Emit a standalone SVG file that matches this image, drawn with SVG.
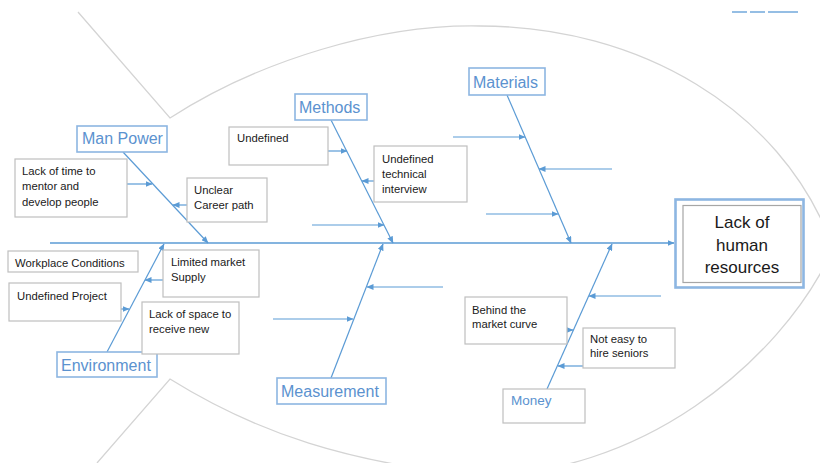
<svg xmlns="http://www.w3.org/2000/svg" width="820" height="463" viewBox="0 0 820 463">
<style>
.fish{fill:none;stroke:#d4d4d4;stroke-width:1.3}
.bone{stroke:#5b9bd5;stroke-width:1.2;fill:none}
.sub{stroke:#5b9bd5;stroke-width:1.2;fill:none;marker-end:url(#ah)}
.cat{fill:#fff;stroke:#8db6e2;stroke-width:1.6}
.ctxt{font-family:"Liberation Sans",Arial,sans-serif;font-size:16px;fill:#5b92cf}
.box{fill:#fff;stroke:#bfbfbf;stroke-width:1.2}
.t{font-family:"Liberation Sans",Arial,sans-serif;font-size:11.3px;fill:#1a1a1a}
.head{font-family:"Liberation Sans",Arial,sans-serif;font-size:17px;fill:#1a1a1a;text-anchor:middle}
</style>
<defs>
<marker id="ah" markerUnits="userSpaceOnUse" markerWidth="7" markerHeight="6" refX="6.5" refY="3" orient="auto">
<path d="M0,0 L7,3 L0,6 Z" fill="#5b9bd5"/>
</marker>
</defs>
<rect width="820" height="463" fill="#fff"/>
<g id="fish-outline">
<path class="fish" d="M78,12 L170,118 C260,60 380,24 480,26 C640,26 780,110 830,240"/>
<path class="fish" d="M97,463 L170,379 C260,435 350,462 470,475 C640,480 780,360 830,255"/>
</g>
<g id="decor">
<line x1="732" y1="12" x2="747" y2="12" stroke="#5b9bd5" stroke-width="1.3"/>
<line x1="750" y1="12" x2="765" y2="12" stroke="#5b9bd5" stroke-width="1.3"/>
<line x1="768" y1="12" x2="798" y2="12" stroke="#5b9bd5" stroke-width="1.3"/>
</g>
<g id="connectors">
<line class="sub" x1="50" y1="243" x2="674" y2="243" style="stroke-width:1.4"/>
<line class="sub" x1="123" y1="152" x2="208" y2="243"/>
<line class="sub" x1="331" y1="120" x2="393" y2="243"/>
<line class="sub" x1="507" y1="95" x2="571" y2="243"/>
<line class="sub" x1="107" y1="352" x2="164" y2="244"/>
<line class="sub" x1="331" y1="378" x2="383" y2="244"/>
<line class="sub" x1="547" y1="389" x2="612" y2="244"/>
<line class="sub" x1="127" y1="184" x2="152" y2="184"/>
<line class="sub" x1="187" y1="205" x2="173" y2="205"/>
<line class="sub" x1="328" y1="151" x2="347" y2="151"/>
<line class="sub" x1="374" y1="181" x2="362" y2="181"/>
<line class="sub" x1="312" y1="225" x2="384" y2="225"/>
<line class="sub" x1="453" y1="137" x2="525" y2="137"/>
<line class="sub" x1="612" y1="169" x2="539" y2="169"/>
<line class="sub" x1="486" y1="214" x2="558" y2="214"/>
<line class="sub" x1="163" y1="280" x2="145" y2="280"/>
<line class="sub" x1="121" y1="309" x2="129" y2="309"/>
<line class="sub" x1="443" y1="287" x2="367" y2="287"/>
<line class="sub" x1="273" y1="319" x2="353" y2="319"/>
<line class="sub" x1="567" y1="330" x2="573" y2="330"/>
<line class="sub" x1="661" y1="296" x2="589" y2="296"/>
<line class="sub" x1="583" y1="366" x2="558" y2="366"/>
</g>
<g id="effect">
<rect x="675.5" y="199.5" width="128" height="88" fill="#fff" stroke="#8db6e2" stroke-width="2.6"/>
<rect x="683" y="205.5" width="118" height="77" fill="none" stroke="#a6a6a6" stroke-width="1.2"/>
<text class="head" x="742" y="228">Lack of</text>
<text class="head" x="742" y="251">human</text>
<text class="head" x="742" y="273">resources</text>
</g>
<g id="cat-manpower">
<rect class="cat" x="77" y="126" width="90" height="26"/>
<text class="ctxt" x="82" y="144">Man Power</text>
</g>
<g id="cat-methods">
<rect class="cat" x="295" y="94" width="72" height="26"/>
<text class="ctxt" x="299" y="113">Methods</text>
</g>
<g id="cat-materials">
<rect class="cat" x="469" y="68" width="76" height="27"/>
<text class="ctxt" x="473" y="88">Materials</text>
</g>
<g id="cat-environment">
<rect class="cat" x="57" y="352" width="100" height="25"/>
<text class="ctxt" x="61" y="371">Environment</text>
</g>
<g id="cat-measurement">
<rect class="cat" x="277" y="378" width="109" height="26"/>
<text class="ctxt" x="281" y="397">Measurement</text>
</g>
<g id="cat-money">
<rect class="box" x="503" y="389" width="82" height="34"/>
<text class="ctxt" x="511" y="405" style="font-size:13.5px">Money</text>
</g>
<g id="cause-lack-of-time">
<rect class="box" x="15" y="159" width="112" height="58"/>
<text class="t" x="22" y="175">Lack of time to</text>
<text class="t" x="22" y="190">mentor and</text>
<text class="t" x="22" y="206">develop people</text>
</g>
<g id="cause-unclear-career">
<rect class="box" x="187" y="178" width="80" height="44"/>
<text class="t" x="194" y="194">Unclear</text>
<text class="t" x="194" y="209">Career path</text>
</g>
<g id="cause-undefined">
<rect class="box" x="229" y="127" width="99" height="38"/>
<text class="t" x="237" y="142">Undefined</text>
</g>
<g id="cause-undefined-interview">
<rect class="box" x="374" y="146" width="93" height="56"/>
<text class="t" x="382" y="163">Undefined</text>
<text class="t" x="382" y="178">technical</text>
<text class="t" x="382" y="193">interview</text>
</g>
<g id="cause-workplace">
<rect class="box" x="8" y="251" width="130" height="21"/>
<text class="t" x="15" y="267">Workplace Conditions</text>
</g>
<g id="cause-limited-market">
<rect class="box" x="163" y="250" width="96" height="47"/>
<text class="t" x="171" y="266">Limited market</text>
<text class="t" x="171" y="281">Supply</text>
</g>
<g id="cause-undefined-project">
<rect class="box" x="9" y="283" width="112" height="38"/>
<text class="t" x="17" y="300">Undefined Project</text>
</g>
<g id="cause-lack-of-space">
<rect class="box" x="142" y="302" width="97" height="52"/>
<text class="t" x="149" y="318">Lack of space to</text>
<text class="t" x="149" y="333">receive new</text>
</g>
<g id="cause-behind-market">
<rect class="box" x="465" y="297" width="102" height="47"/>
<text class="t" x="472" y="314">Behind the</text>
<text class="t" x="472" y="328">market curve</text>
</g>
<g id="cause-not-easy">
<rect class="box" x="583" y="328" width="92" height="40"/>
<text class="t" x="590" y="343">Not easy to</text>
<text class="t" x="590" y="357">hire seniors</text>
</g>
</svg>
